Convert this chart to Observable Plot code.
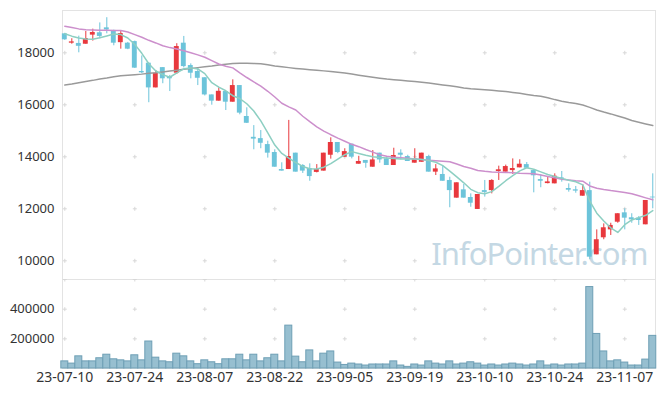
<!DOCTYPE html>
<html><head><meta charset="utf-8">
<script src="https://cdn.jsdelivr.net/npm/d3@7"></script>
<script src="https://cdn.jsdelivr.net/npm/@observablehq/plot@0.6"></script>
<style>
body{margin:0;background:#fff;}
#chart svg{display:block;}
#chart svg.vol g[aria-label="x-axis tick label"] text{font-size:14px;}
</style>
</head><body>
<div id="chart"></div>
<script>
// ---- data ----
const tickLabels = ["23-07-10","23-07-24","23-08-07","23-08-22","23-09-05","23-09-19","23-10-10","23-10-24","23-11-07"];
const tickIndex = [0,10,20,30,40,50,60,70,80];
const priceTicks = [10000,12000,14000,16000,18000];
const volumeTicks = [200000,400000];

const open  = [18730,18370,18360,18330,18680,18770,18960,18860,18390,18370,18430,17280,17600,16650,17430,17060,17215,18370,17510,17280,17040,16380,16140,16510,16100,16740,15550,14750,14700,14470,14165,13510,13510,14140,13665,13550,13400,13450,14060,14550,13985,14485,13715,13860,13600,14140,13920,13665,14140,14010,13755,13790,14010,13410,13320,13090,12410,12730,12435,11975,12700,12700,13435,13410,13470,13575,13700,13470,13125,12970,12960,13190,12780,12730,12485,12700,10230,10885,11190,11485,11845,11655,11640,11385,12450];
const high  = [18750,18540,18640,18820,18910,19150,19350,18870,18830,18400,18450,17880,17600,17320,17430,17130,18350,18630,17575,17410,17040,16380,16650,16510,16960,16740,15885,15200,15010,14600,14270,13770,15400,14140,13700,13730,13700,14140,14730,14550,14310,14485,14020,13860,14240,14140,13990,14330,14270,14060,14310,14140,14060,13700,13625,13215,13000,12935,12575,12550,13090,13120,13640,13680,13920,13885,13780,13470,13320,13215,13345,13435,12960,12860,12935,13025,11190,11420,11445,11810,12000,11810,11700,12320,13345];
const low   = [18480,18330,18000,18330,18450,18540,18730,18270,18140,18120,17400,17190,16080,16650,16810,16510,17165,17420,17000,16740,16340,15985,16140,15780,16100,15615,15280,14270,14310,13950,13600,13450,13510,13410,13360,13060,13380,13450,13910,14120,13985,13920,13715,13560,13600,13755,13665,13665,13885,13820,13755,13790,13410,13280,13060,12040,12410,12410,12060,11975,12450,12575,13090,13410,13320,13575,13560,12615,12810,12960,12960,13025,12640,12600,12485,10040,10230,10810,10975,11445,11190,11445,11360,11385,12000];
const close = [18500,18420,18250,18550,18780,18630,18880,18370,18740,18140,17410,17230,16650,17215,17000,17000,18240,17470,17215,17020,16380,16140,16520,16100,16740,15680,15290,14680,14520,14140,13600,13450,14010,13410,13450,13240,13510,14140,14550,14165,14200,13985,13820,13750,13880,13880,13665,14050,14060,13820,13920,14140,13410,13535,13060,12700,13000,12410,12215,12550,12630,13090,13500,13625,13550,13715,13560,13270,13060,13035,13255,13125,12715,12680,12700,10140,10810,11270,11360,11810,11640,11575,11550,12320,12420];
const volume = [48000,33000,82000,48000,48000,69000,93000,62000,55000,48000,89000,55000,182000,73000,48000,42000,100000,82000,48000,29000,55000,42000,29000,62000,62000,93000,55000,93000,48000,69000,93000,48000,289000,80000,42000,122000,48000,100000,115000,40000,24000,33000,27000,20000,27000,27000,27000,48000,20000,11000,27000,20000,48000,33000,27000,48000,27000,33000,42000,33000,20000,27000,20000,27000,33000,27000,20000,27000,48000,20000,27000,20000,27000,27000,33000,549000,233000,115000,48000,55000,40000,20000,20000,60000,220000];
const ma5   = [18730,18640,18570,18530,18520,18580,18650,18720,18700,18570,18320,17980,17580,17300,17160,17060,17230,17385,17420,17380,17200,16850,16680,16540,16350,16240,16040,15760,15380,14920,14450,14130,13950,13780,13630,13540,13530,13600,13735,13910,14080,14200,14130,14060,14000,13970,13950,13930,13920,13920,13920,13900,13860,13790,13660,13450,13230,13000,12750,12620,12580,12660,12860,13080,13280,13460,13580,13520,13420,13320,13240,13170,13100,13040,12920,12300,11830,11530,11270,11090,11390,11570,11660,11750,11930];
const ma20  = [19020,18970,18920,18890,18880,18870,18865,18860,18860,18800,18700,18600,18480,18380,18270,18200,18150,18080,18000,17920,17830,17700,17570,17480,17420,17230,17050,16880,16720,16520,16300,16060,15920,15800,15560,15350,15150,14990,14850,14720,14600,14480,14390,14280,14180,14080,14020,13980,13960,13940,13920,13900,13870,13850,13830,13810,13720,13630,13560,13470,13440,13420,13410,13400,13390,13370,13360,13345,13300,13245,13190,13140,13110,13080,13060,12880,12790,12740,12700,12670,12630,12580,12500,12420,12345];
const ma120 = [16760,16800,16850,16900,16940,16990,17030,17080,17120,17140,17160,17180,17210,17230,17265,17300,17330,17370,17400,17430,17460,17490,17530,17560,17585,17600,17600,17590,17575,17540,17495,17460,17430,17400,17375,17350,17330,17305,17280,17255,17225,17185,17140,17100,17060,17025,16990,16965,16945,16920,16895,16870,16835,16800,16765,16730,16690,16650,16620,16600,16580,16560,16535,16510,16475,16440,16400,16360,16330,16270,16200,16140,16090,16050,15990,15900,15800,15720,15650,15570,15490,15395,15330,15265,15200];

// ---- build tables ----
const rows = open.map((o, i) => ({i, open: o, high: high[i], low: low[i], close: close[i], vol: volume[i], ma5: ma5[i], ma20: ma20[i], ma120: ma120[i]}));
const upRows = rows.filter(d => d.close >= d.open);
const downRows = rows.filter(d => d.close < d.open);

const RED = "#e8383d", BLUE = "#6cc4da";
const GRID = "#d8d8d8", FRAME = "#e3e3e3";
const xDomain = [-0.33, 84.39];
const font = {fontFamily: "'Noto Sans', sans-serif", fontSize: "13px", color: "#333", background: "#fff"};

const plusSymbol = {draw(ctx) { const a = 2; ctx.moveTo(-a, 0); ctx.lineTo(a, 0); ctx.moveTo(0, -a); ctx.lineTo(0, a); }};
const crosses = (ys) => tickIndex.flatMap(x => ys.map(y => ({x, y})));

const main = Plot.plot({
  width: 665, height: 279,
  marginTop: 10, marginBottom: 0, marginLeft: 62, marginRight: 10,
  style: font,
  x: {type: "linear", domain: xDomain, axis: null},
  y: {domain: [9281, 19627], ticks: priceTicks, tickSize: 0, tickPadding: 8, tickFormat: d => String(d), label: null},
  marks: [
    Plot.frame({stroke: FRAME}),
    Plot.dot(crosses(priceTicks), {x: "x", y: "y", symbol: plusSymbol, stroke: GRID, fill: "none", strokeWidth: 1}),
    Plot.text(["InfoPointer.com"], {text: d => d, frameAnchor: "bottom-right", textAnchor: "end", lineAnchor: "bottom", dx: -8, dy: -15, fontSize: 31, fill: "#c4d8e4"}),
    Plot.ruleX(upRows, {x: "i", y1: "low", y2: "high", stroke: RED, strokeWidth: 1}),
    Plot.ruleX(downRows, {x: "i", y1: "low", y2: "high", stroke: BLUE, strokeWidth: 1}),
    Plot.rect(upRows, {x1: d => d.i - 0.35, x2: d => d.i + 0.35, y1: "open", y2: "close", fill: RED}),
    Plot.rect(downRows, {x1: d => d.i - 0.35, x2: d => d.i + 0.35, y1: "open", y2: "close", fill: BLUE}),
    Plot.line(rows, {x: "i", y: "ma120", stroke: "#9a9a9a", strokeWidth: 1.5}),
    Plot.line(rows, {x: "i", y: "ma20", stroke: "#cc8fcc", strokeWidth: 1.5}),
    Plot.line(rows, {x: "i", y: "ma5", stroke: "#8dcfc2", strokeWidth: 1.5})
  ]
});

const vol = Plot.plot({
  width: 665, height: 117,
  marginTop: 0, marginBottom: 28, marginLeft: 62, marginRight: 10,
  style: font,
  x: {type: "linear", domain: xDomain, ticks: tickIndex, tickFormat: i => tickLabels[tickIndex.indexOf(i)], tickSize: 0, tickPadding: 4, label: null},
  y: {domain: [0, 600000], ticks: volumeTicks, tickSize: 0, tickPadding: 8, tickFormat: d => String(d), label: null},
  marks: [
    Plot.frame({stroke: FRAME}),
    Plot.dot(crosses([200000, 400000, 600000]), {x: "x", y: "y", symbol: plusSymbol, stroke: GRID, fill: "none", strokeWidth: 1}),
    Plot.rectY(rows, {x1: d => d.i - 0.5, x2: d => d.i + 0.5, y: "vol", fill: "#97bfd0", stroke: "#6e9fb5", strokeWidth: 1})
  ]
});
vol.classList.add("vol");

const chart = document.getElementById("chart");
chart.append(main, vol);

// watermark: tighten the letters a little, like the reference's narrow face
for (const t of main.querySelectorAll("text")) {
  if (t.textContent === "InfoPointer.com") t.setAttribute("letter-spacing", "-1");
}
</script>
</body></html>
